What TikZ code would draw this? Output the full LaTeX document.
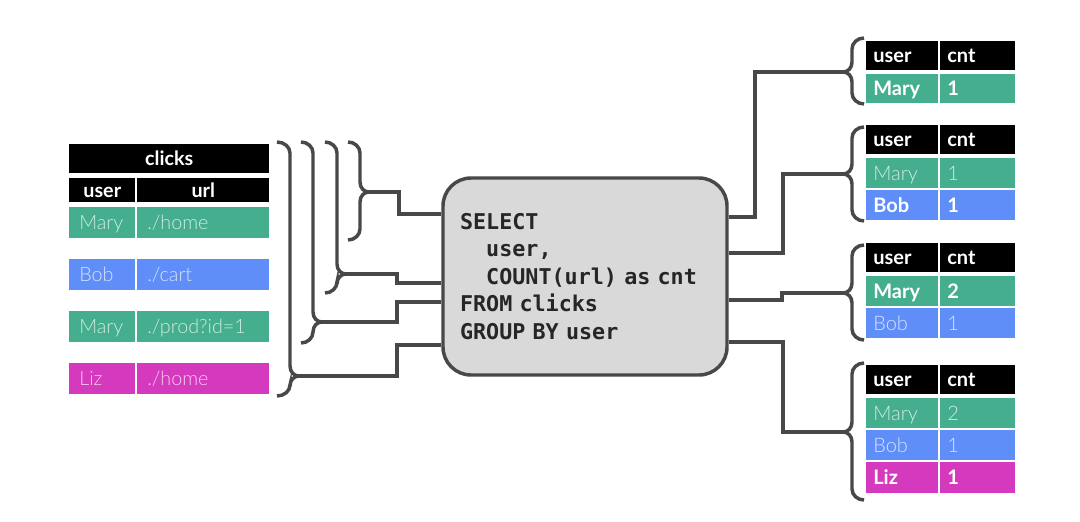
\documentclass[tikz,border=0pt]{standalone}
\usepackage{fontspec}
\setmainfont{Lato}
\IfFontExistsTF{Lato Light}{\newfontfamily\lightfont{Lato Light}}{\newfontfamily\lightfont{Lato}}
\newfontfamily\sqlfont{DejaVu Sans Mono}
\definecolor{grn}{HTML}{44AE8E}
\definecolor{blu}{HTML}{5F8EF8}
\definecolor{mag}{HTML}{D439BE}
\definecolor{lin}{HTML}{484848}
\definecolor{boxfill}{HTML}{D9D9D9}
\def\cellpad{7.5pt}
\def\fsz{14.8pt}
\tikzset{
  wire/.style={draw=lin, line width=2.6pt},
  bracestyle/.style={draw=lin, line width=2.6pt},
  cellbase/.style={anchor=north west, inner ysep=0pt, text height=10.4pt, text depth=0pt},
  lt/.style={font=\lightfont\fontsize{\fsz}{16pt}\selectfont, text=white, text opacity=0.75},
  bd/.style={font=\bfseries\fontsize{\fsz}{16pt}\selectfont, text=white},
  sqlbox/.style={draw=lin, line width=2.6pt, fill=boxfill, rounded corners=21pt,
    minimum width=284*0.75pt, minimum height=197*0.75pt, text width=250*0.75pt,
    align=left, inner sep=0pt, text=black!85,
    font=\sqlfont\bfseries\fontsize{16.3pt}{20.6pt}\selectfont}
}
% name, x, y, w, h, fill, text style, align, text
\newcommand\tcell[9]{\node[cellbase, fill=#6, minimum width=#4*0.75pt, minimum height=#5*0.75pt,
  inner xsep=\cellpad, text width=#4*0.75pt-2*\cellpad, align=#8, #7] (#1) at (#2,#3) {#9};}
% tip name, x0 (free end), x1 (vertical), x2 (tip), y top, y tip, y bottom
\newcommand\bracepath[7]{\draw[bracestyle]
  (#2,#5) .. controls ({#2+0.55*(#3-#2)},#5) and (#3,#5+5) .. (#3,#5+11)
  -- (#3,#6-10) .. controls (#3,#6-4) and ({#3+0.45*(#4-#3)},#6) .. (#4,#6) coordinate (#1)
  .. controls ({#3+0.45*(#4-#3)},#6) and (#3,#6+4) .. (#3,#6+10)
  -- (#3,#7-11) .. controls (#3,#7-5) and ({#2+0.55*(#3-#2)},#7) .. (#2,#7);}
\begin{document}
\begin{tikzpicture}[x=0.75pt,y=-0.75pt]
\useasboundingbox (0,0) rectangle (1080,521);
\fill[white] (0,0) rectangle (1080,521);

% ---------- left table ----------
\tcell{clk}{69}{144}{200}{29}{black}{bd}{center}{clicks}
\tcell{hu}{69}{178}{66}{24}{black}{bd}{center}{user}
\tcell{hl}{137}{178}{132}{24}{black}{bd}{center}{url}
\tcell{u1}{69}{207}{66}{31}{grn}{lt}{left}{Mary}
\tcell{l1}{137}{207}{132}{31}{grn}{lt}{left}{./home}
\tcell{u2}{69}{259}{66}{31}{blu}{lt}{left}{Bob}
\tcell{l2}{137}{259}{132}{31}{blu}{lt}{left}{./cart}
\tcell{u3}{69}{311}{66}{31}{grn}{lt}{left}{Mary}
\tcell{l3}{137}{311}{132}{31}{grn}{lt}{left}{./prod?id=1}
\tcell{u4}{69}{363}{66}{31}{mag}{lt}{left}{Liz}
\tcell{l4}{137}{363}{132}{31}{mag}{lt}{left}{./home}

% ---------- SQL box ----------
\node[sqlbox] (sql) at (585,276.5) {SELECT\\\phantom{xx}user,\\\phantom{xx}COUNT(url) as cnt\\FROM clicks\\GROUP BY user};

% ---------- left braces ----------
\bracepath{tL1}{277}{290}{299}{142}{376}{396}
\bracepath{tL2}{301}{313}{322}{142}{322}{343}
\bracepath{tL3}{325}{337}{346}{142}{274}{293}
\bracepath{tL4}{348}{360}{369}{142}{192}{240}

\coordinate (jL1) at (397,345);
\coordinate (jL2) at (397,302);
\coordinate (jL3) at (397,283);
\coordinate (jL4) at (399,214);
\draw[wire] (tL1) -- (tL1 -| jL1) -- (jL1) -- (jL1 -| sql.west);
\draw[wire] (tL2) -- (tL2 -| jL2) -- (jL2) -- (jL2 -| sql.west);
\draw[wire] (tL3) -- (tL3 -| jL3) -- (jL3) -- (jL3 -| sql.west);
\draw[wire] (tL4) -- (tL4 -| jL4) -- (jL4) -- (jL4 -| sql.west);

% ---------- right braces ----------
\bracepath{tR1}{864}{852}{843}{38}{72}{104}
\bracepath{tR2}{864}{852}{843}{127}{174}{221}
\bracepath{tR3}{864}{852}{843}{245}{293}{340}
\bracepath{tR4}{864}{852}{843}{363}{432}{500}

\coordinate (jR1) at (755,217);
\coordinate (jR2) at (783,253);
\coordinate (jR3) at (782,300);
\coordinate (jR4) at (783,342);
\draw[wire] (jR1 -| sql.east) -- (jR1) -- (jR1 |- tR1) -- (tR1);
\draw[wire] (jR2 -| sql.east) -- (jR2) -- (jR2 |- tR2) -- (tR2);
\draw[wire] (jR3 -| sql.east) -- (jR3) -- (jR3 |- tR3) -- (tR3);
\draw[wire] (jR4 -| sql.east) -- (jR4) -- (jR4 |- tR4) -- (tR4);

% ---------- right tables ----------
\def\cellpad{5.25pt}
\def\fsz{15pt}
% table 1
\tcell{a0u}{866}{41}{72}{29}{black}{bd}{left}{user}
\tcell{a0c}{940}{41}{75}{29}{black}{bd}{left}{cnt}
\tcell{a1u}{866}{74}{72}{29}{grn}{bd}{left}{Mary}
\tcell{a1c}{940}{74}{75}{29}{grn}{bd}{left}{1}
% table 2
\tcell{b0u}{866}{125}{72}{29}{black}{bd}{left}{user}
\tcell{b0c}{940}{125}{75}{29}{black}{bd}{left}{cnt}
\tcell{b1u}{866}{158}{72}{30}{grn}{lt}{left}{Mary}
\tcell{b1c}{940}{158}{75}{30}{grn}{lt}{left}{1}
\tcell{b2u}{866}{190}{72}{30}{blu}{bd}{left}{Bob}
\tcell{b2c}{940}{190}{75}{30}{blu}{bd}{left}{1}
% table 3
\tcell{c0u}{866}{243}{72}{29}{black}{bd}{left}{user}
\tcell{c0c}{940}{243}{75}{29}{black}{bd}{left}{cnt}
\tcell{c1u}{866}{276}{72}{30}{grn}{bd}{left}{Mary}
\tcell{c1c}{940}{276}{75}{30}{grn}{bd}{left}{2}
\tcell{c2u}{866}{308}{72}{30}{blu}{lt}{left}{Bob}
\tcell{c2c}{940}{308}{75}{30}{blu}{lt}{left}{1}
% table 4
\tcell{d0u}{866}{365}{72}{29}{black}{bd}{left}{user}
\tcell{d0c}{940}{365}{75}{29}{black}{bd}{left}{cnt}
\tcell{d1u}{866}{398}{72}{30}{grn}{lt}{left}{Mary}
\tcell{d1c}{940}{398}{75}{30}{grn}{lt}{left}{2}
\tcell{d2u}{866}{430}{72}{30}{blu}{lt}{left}{Bob}
\tcell{d2c}{940}{430}{75}{30}{blu}{lt}{left}{1}
\tcell{d3u}{866}{462}{72}{31}{mag}{bd}{left}{Liz}
\tcell{d3c}{940}{462}{75}{31}{mag}{bd}{left}{1}
\end{tikzpicture}
\end{document}
